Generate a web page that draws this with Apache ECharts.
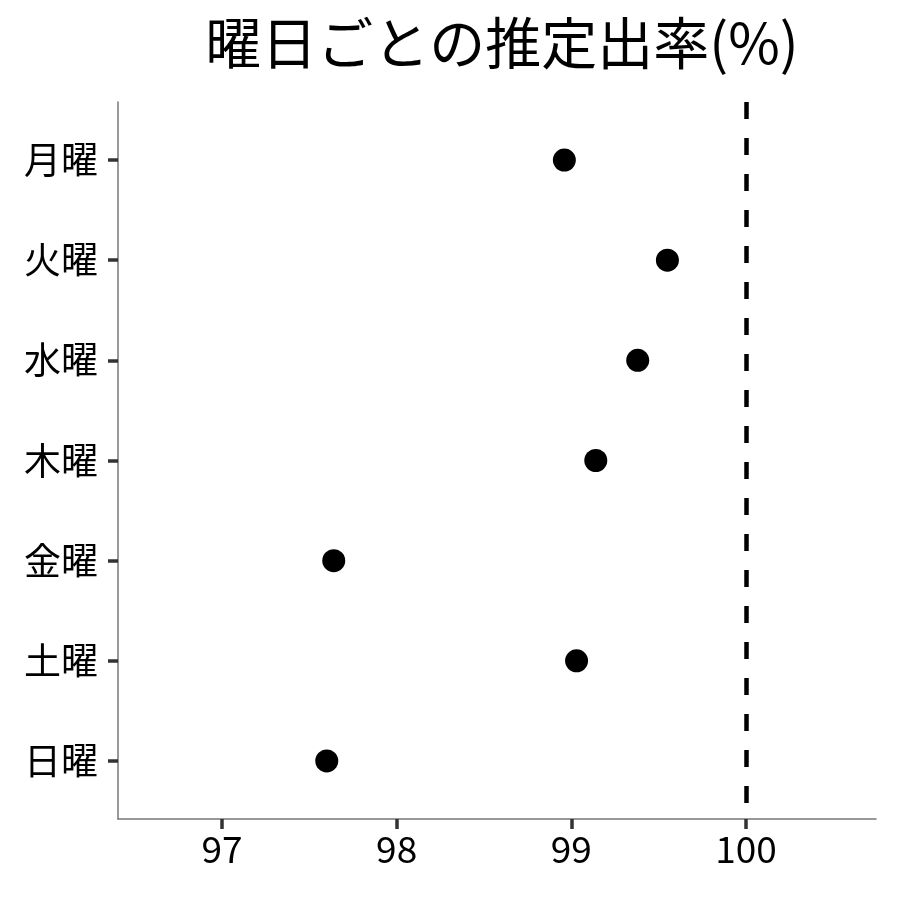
<!DOCTYPE html>
<html>
<head>
<meta charset="utf-8">
<script src="https://cdn.jsdelivr.net/npm/echarts@6/dist/echarts.min.js"></script>
<style>html,body{margin:0;padding:0;background:#fff}#c{width:900px;height:900px}</style>
</head>
<body>
<div id="c"></div>
<script>
const days = ['月曜','火曜','水曜','木曜','金曜','土曜','日曜'];
const rates = [98.96, 99.55, 99.38, 99.14, 97.64, 99.03, 97.60];
const xTicks = [97, 98, 99, 100];
const refLine = 100;
const titleText = '曜日ごとの推定出率(%)';

const FONT = '"Noto Sans CJK JP", "Noto Sans", sans-serif';
const chart = echarts.init(document.getElementById('c'));
chart.setOption({
  backgroundColor: '#ffffff',
  animation: false,
  title: {
    text: titleText,
    left: 497, top: 10, textAlign: 'center',
    textStyle: { fontFamily: FONT, fontSize: 56, fontWeight: 'normal', color: '#000' }
  },
  grid: { left: 118, right: 24, top: 102, bottom: 81, containLabel: false },
  xAxis: {
    type: 'value', min: 96.405, max: 100.744,
    axisLine: { show: true, onZero: false, lineStyle: { color: '#777', width: 1.5 } },
    axisTick: { show: true, length: 10, lineStyle: { color: '#333', width: 3.5 }, customValues: xTicks },
    axisLabel: { customValues: xTicks, margin: 11, fontFamily: FONT, fontSize: 37, color: '#000' },
    splitLine: { show: false }
  },
  yAxis: {
    type: 'value', inverse: true, min: -0.58, max: 6.58,
    axisLine: { show: true, onZero: false, lineStyle: { color: '#777', width: 1.5 } },
    axisTick: { show: true, length: 10, lineStyle: { color: '#333', width: 3.5 }, customValues: days.map((d,i)=>i) },
    axisLabel: { customValues: days.map((d,i)=>i), margin: 20, fontFamily: FONT, fontSize: 37, color: '#000',
      formatter: v => days[Math.round(v)] },
    splitLine: { show: false }
  },
  series: [{
    type: 'scatter',
    symbolSize: 23,
    itemStyle: { color: '#000', opacity: 1 },
    data: rates.map((v, i) => [v, i]),
    markLine: {
      silent: true, symbol: 'none', label: { show: false },
      lineStyle: { color: '#000', width: 4.5, type: [17, 19], opacity: 1 },
      data: [{ xAxis: refLine }]
    },
    z: 3
  }]
});
</script>
</body>
</html>
